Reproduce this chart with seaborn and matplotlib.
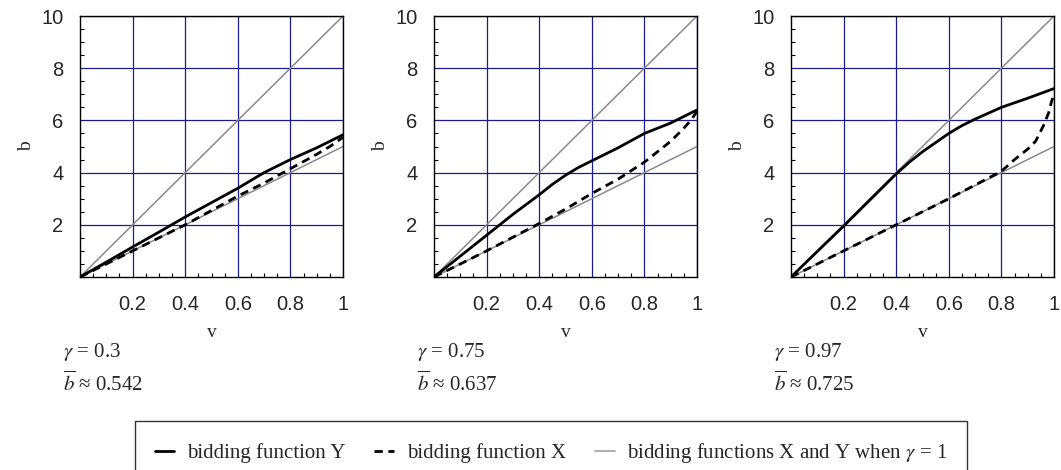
import numpy as np
import pandas as pd
import matplotlib
matplotlib.use("Agg")
import matplotlib.pyplot as plt
from matplotlib.lines import Line2D
from matplotlib.ticker import MultipleLocator
import seaborn as sns

# panel parameters
gammas = ["0.3", "0.75", "0.97"]
b_bars = ["0.542", "0.637", "0.725"]

# bidding function Y (solid)
y_v = [[0, 0.1, 0.2, 0.3, 0.4, 0.5, 0.6, 0.7, 0.8, 0.9, 1.0],
       [0, 0.1, 0.2, 0.3, 0.4, 0.45, 0.5, 0.55, 0.6, 0.7, 0.8, 0.9, 1.0],
       [0, 0.1, 0.2, 0.3, 0.4, 0.45, 0.5, 0.55, 0.6, 0.65, 0.7, 0.8, 0.9, 1.0]]
y_b = [[0, 0.57, 1.15, 1.72, 2.3, 2.85, 3.4, 4.0, 4.5, 4.95, 5.45],
       [0, 0.8, 1.6, 2.4, 3.15, 3.55, 3.9, 4.2, 4.45, 4.95, 5.5, 5.9, 6.4],
       [0, 0.98, 1.95, 2.95, 3.95, 4.4, 4.8, 5.15, 5.5, 5.8, 6.05, 6.5, 6.85, 7.22]]

# bidding function X (dashed)
x_v = [[0, 0.2, 0.4, 0.6, 0.7, 0.8, 0.9, 0.95, 1.0],
       [0, 0.2, 0.4, 0.5, 0.6, 0.7, 0.8, 0.85, 0.9, 0.95, 0.98, 1.0],
       [0, 0.2, 0.4, 0.6, 0.8, 0.85, 0.9, 0.93, 0.96, 0.98, 0.99, 1.0]]
x_b = [[0, 1.0, 2.0, 3.1, 3.6, 4.15, 4.7, 5.0, 5.35],
       [0, 1.0, 2.05, 2.6, 3.2, 3.75, 4.4, 4.8, 5.2, 5.7, 6.05, 6.35],
       [0, 1.0, 2.0, 3.0, 4.05, 4.5, 4.9, 5.2, 5.8, 6.3, 6.7, 7.0]]

# reference lines for gamma = 1
ref_v = [0, 1]
ref_hi = [0, 10]
ref_lo = [0, 5]

sns.set_style("white")
plt.rcParams["font.family"] = ["Liberation Serif", "DejaVu Serif"]
plt.rcParams["mathtext.fontset"] = "stix"

fig = plt.figure(figsize=(10.61, 4.70), dpi=100)
lefts = [80, 434, 791]
grid_col = "#1c1c8c"
gray = "#8a8a8a"
dash = (0, (3, 2))

for i in range(3):
    ax = fig.add_axes([lefts[i] / 1061, 1 - 277 / 470, 263 / 1061, 261 / 470])
    ax.set_xlim(0, 1)
    ax.set_ylim(0, 10)
    ax.set_xticks([0.2, 0.4, 0.6, 0.8, 1.0])
    ax.set_xticklabels(["0.2", "0.4", "0.6", "0.8", "1"])
    ax.set_yticks([2, 4, 6, 8, 10])
    ax.set_yticklabels(["2", "4", "6", "8", "10"])
    ax.xaxis.set_minor_locator(MultipleLocator(0.05))
    ax.yaxis.set_minor_locator(MultipleLocator(0.5))
    ax.tick_params(which="both", direction="in", color="black",
                   bottom=True, left=True, top=False, right=False)
    ax.tick_params(which="major", length=0, labelsize=14.5)
    ax.tick_params(axis="x", which="major", pad=13)
    ax.tick_params(axis="y", which="major", pad=12)
    ax.tick_params(which="minor", length=3, width=0.8)
    for lab in ax.get_xticklabels() + ax.get_yticklabels():
        lab.set_family("Liberation Sans")
    ax.grid(True, which="major", color=grid_col, lw=0.9)
    ax.set_axisbelow(True)
    for s in ax.spines.values():
        s.set_color("black")
        s.set_linewidth(1.0)

    sns.lineplot(x=ref_v, y=ref_hi, ax=ax, color=gray, lw=1.1)
    sns.lineplot(x=ref_v, y=ref_lo, ax=ax, color=gray, lw=1.1)
    sns.lineplot(x=x_v[i], y=x_b[i], ax=ax, color="black", lw=2,
                 linestyle=dash, estimator=None, sort=False)
    sns.lineplot(x=y_v[i], y=y_b[i], ax=ax, color="black", lw=2,
                 estimator=None, sort=False)

    ax.set_xlabel("v", fontsize=14, labelpad=7)
    ax.set_ylabel("b", fontsize=14, labelpad=4)

    ax.text(-0.066, -0.287, r"$\gamma$ = " + gammas[i], transform=ax.transAxes,
            fontsize=15, va="center", ha="left")
    ax.text(-0.066, -0.41, r"$\overline{b}$ ≈ " + b_bars[i], transform=ax.transAxes,
            fontsize=15, va="center", ha="left")

handles = [Line2D([], [], color="black", lw=2),
           Line2D([], [], color="black", lw=2, linestyle=dash),
           Line2D([], [], color="#b0b0b0", lw=1.5)]
labels = ["bidding function Y", "bidding function X",
          r"bidding functions X and Y when $\gamma$ = 1"]
leg = fig.legend(handles, labels, loc="upper center", ncol=3,
                 bbox_to_anchor=(551 / 1061, 1 - 421 / 470), fontsize=15,
                 frameon=True, fancybox=False, handlelength=0.95,
                 handletextpad=0.6, columnspacing=1.4,
                 borderpad=0.95, borderaxespad=0)
leg.get_frame().set_edgecolor("black")
leg.get_frame().set_linewidth(1.0)

fig.savefig("out.png", dpi=100)
